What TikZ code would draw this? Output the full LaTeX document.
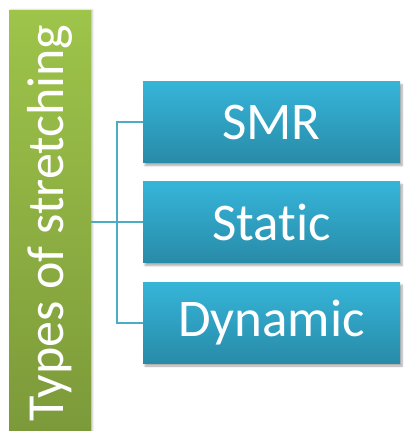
\documentclass[tikz,border=0pt]{standalone}
\usepackage{fontspec}
\setmainfont[Ligatures=NoCommon]{Carlito}
\usetikzlibrary{shadows.blur}
\definecolor{gtop}{RGB}{158,196,74}
\definecolor{gbot}{RGB}{124,154,58}
\definecolor{btop}{RGB}{54,181,217}
\definecolor{bbot}{RGB}{40,139,168}
\definecolor{conn}{RGB}{75,172,198}
\tikzset{
  box/.style={rectangle, minimum width=257pt, minimum height=81pt, inner sep=0pt,
    top color=btop, bottom color=bbot, text=white,
    font=\fontsize{53}{62}\selectfont,
    blur shadow={shadow xshift=2pt, shadow yshift=-3pt, shadow blur steps=6, shadow opacity=35}},
  conline/.style={draw=conn, line width=2pt}
}
\begin{document}
\begin{tikzpicture}[x=1pt,y=-1pt]
\useasboundingbox (0,0) rectangle (406,431);
\node[rectangle, minimum width=82pt, minimum height=422pt, inner sep=0pt,
  top color=gtop, bottom color=gbot,
  blur shadow={shadow xshift=1.5pt, shadow yshift=0pt, shadow blur steps=4, shadow opacity=25}] (bar) at (50,221) {};
\node[rotate=90, text=white, font=\fontsize{52}{60}\selectfont, inner sep=0pt] (bartext) at (50,223) {Types of stretching};
\node[box] (sm) at (271.5,122) {SMR};
\node[box] (st) at (271.5,222) {Static};
\node[box] (dy) at (271.5,322.5) {Dynamic};
\coordinate (j) at (117,222);
\draw[conline] (bar.east |- j) -- (st.west);
\draw[conline] (sm.west) -| (j) |- (dy.west);
\end{tikzpicture}
\end{document}
